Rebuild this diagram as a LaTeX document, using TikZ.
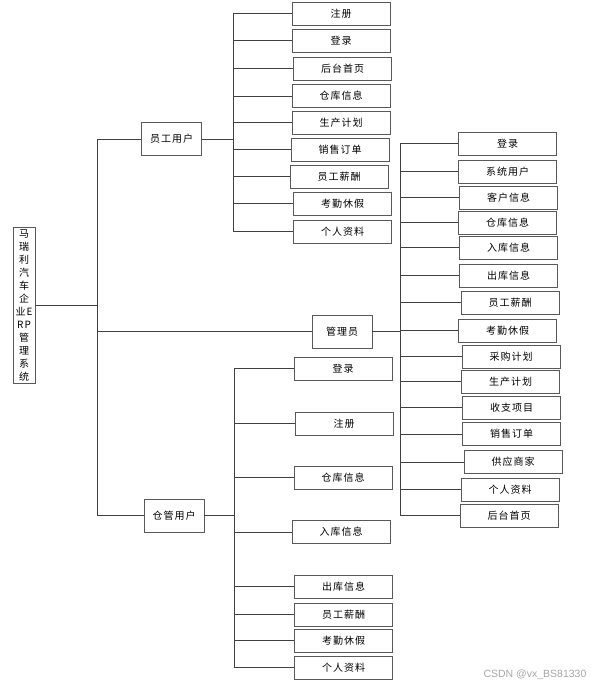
\documentclass[tikz,border=0pt]{standalone}
\usepackage{fontspec}
\usepackage{tikz}
\newfontfamily\cjk[LetterSpace=10]{Noto Sans CJK SC}
\newfontfamily\wmfont{Liberation Sans}

\tikzset{
  leaf/.style={draw=black!65, line width=0.9pt, minimum width=98pt, minimum height=23pt,
    inner sep=0pt, font=\cjk\fontsize{10}{12}\selectfont},
  role/.style={leaf, minimum width=60pt, minimum height=33pt},
  link/.style={draw=black!75, line width=0.8pt},
}

\begin{document}
\begin{tikzpicture}[x=1pt, y=-1pt]

    \useasboundingbox (0,0) rectangle (590,685);

    % ==========================================
    % ROOT AND FIRST LEVEL
    % ==========================================

    % System name, one character per line
    \node[leaf, minimum width=22pt, minimum height=156pt, align=center,
          font=\cjk\fontsize{10}{13}\selectfont] (root) at (24,305)
        {马\\瑞\\利\\汽\\车\\企\\业E\\RP\\管\\理\\系\\统};

    % User roles
    \node[role] (emp) at (171.5,139) {员工用户};
    \node[role] (mgr) at (342,331.5) {管理员};
    \node[role] (wh)  at (174,515.5) {仓管用户};

    % Main trunk
    \coordinate (trunk) at (97,302);
    \draw[link] (root.east) -- (root.east -| trunk);
    \draw[link] (trunk |- emp.west) -- (trunk |- wh.west);
    \draw[link] (trunk |- emp.west) -- (emp.west);
    \draw[link] (trunk |- mgr.west) -- (mgr.west);
    \draw[link] (trunk |- wh.west) -- (wh.west);

    % ==========================================
    % EMPLOYEE USER BRANCH
    % ==========================================

    \node[leaf] (e1) at (341,13.5)   {注册};
    \node[leaf] (e2) at (341,40.5)   {登录};
    \node[leaf] (e3) at (342.5,68.5) {后台首页};
    \node[leaf] (e4) at (341,96)     {仓库信息};
    \node[leaf] (e5) at (341,122.5)  {生产计划};
    \node[leaf] (e6) at (340,149.5)  {销售订单};
    \node[leaf] (e7) at (339,176.5)  {员工薪酬};
    \node[leaf] (e8) at (342.5,203.5) {考勤休假};
    \node[leaf] (e9) at (342.5,231.5) {个人资料};

    % Employee bus line
    \coordinate (ebus) at (233,0);
    \draw[link] (emp.east) -- (emp.east -| ebus);
    \draw[link] (ebus |- e1.west) -- (ebus |- e9.west);
    \draw[link] (ebus |- e1.west) -- (e1.west);
    \draw[link] (ebus |- e2.west) -- (e2.west);
    \draw[link] (ebus |- e3.west) -- (e3.west);
    \draw[link] (ebus |- e4.west) -- (e4.west);
    \draw[link] (ebus |- e5.west) -- (e5.west);
    \draw[link] (ebus |- e6.west) -- (e6.west);
    \draw[link] (ebus |- e7.west) -- (e7.west);
    \draw[link] (ebus |- e8.west) -- (e8.west);
    \draw[link] (ebus |- e9.west) -- (e9.west);

    % ==========================================
    % ADMINISTRATOR BRANCH
    % ==========================================

    \node[leaf] (m1)  at (507.5,143.5) {登录};
    \node[leaf] (m2)  at (507.5,171.5) {系统用户};
    \node[leaf] (m3)  at (508.5,197.5) {客户信息};
    \node[leaf] (m4)  at (507.5,222.5) {仓库信息};
    \node[leaf] (m5)  at (508.5,247.5) {入库信息};
    \node[leaf] (m6)  at (508.5,275.5) {出库信息};
    \node[leaf] (m7)  at (510,302.5)   {员工薪酬};
    \node[leaf] (m8)  at (507.5,330.5) {考勤休假};
    \node[leaf] (m9)  at (511,356.5)   {采购计划};
    \node[leaf] (m10) at (510.5,381.5) {生产计划};
    \node[leaf] (m11) at (511.5,407.5) {收支项目};
    \node[leaf] (m12) at (511.5,434)   {销售订单};
    \node[leaf] (m13) at (513,462)     {供应商家};
    \node[leaf] (m14) at (510,489.5)   {个人资料};
    \node[leaf] (m15) at (509,515.5)   {后台首页};

    % Administrator bus line
    \coordinate (mbus) at (400,0);
    \draw[link] (mgr.east) -- (mgr.east -| mbus);
    \draw[link] (mbus |- m1.west) -- (mbus |- m15.west);
    \draw[link] (mbus |- m1.west) -- (m1.west);
    \draw[link] (mbus |- m2.west) -- (m2.west);
    \draw[link] (mbus |- m3.west) -- (m3.west);
    \draw[link] (mbus |- m4.west) -- (m4.west);
    \draw[link] (mbus |- m5.west) -- (m5.west);
    \draw[link] (mbus |- m6.west) -- (m6.west);
    \draw[link] (mbus |- m7.west) -- (m7.west);
    \draw[link] (mbus |- m8.west) -- (m8.west);
    \draw[link] (mbus |- m9.west) -- (m9.west);
    \draw[link] (mbus |- m10.west) -- (m10.west);
    \draw[link] (mbus |- m11.west) -- (m11.west);
    \draw[link] (mbus |- m12.west) -- (m12.west);
    \draw[link] (mbus |- m13.west) -- (m13.west);
    \draw[link] (mbus |- m14.west) -- (m14.west);
    \draw[link] (mbus |- m15.west) -- (m15.west);

    % ==========================================
    % WAREHOUSE USER BRANCH
    % ==========================================

    \node[leaf] (w1) at (343,368.5)   {登录};
    \node[leaf] (w2) at (344,423.5)   {注册};
    \node[leaf] (w3) at (343,477.5)   {仓库信息};
    \node[leaf] (w4) at (341,532)     {入库信息};
    \node[leaf] (w5) at (343.5,586.5) {出库信息};
    \node[leaf] (w6) at (343.5,614.5) {员工薪酬};
    \node[leaf] (w7) at (343.5,640.5) {考勤休假};
    \node[leaf] (w8) at (343.5,667.5) {个人资料};

    % Warehouse bus line
    \coordinate (wbus) at (234,0);
    \draw[link] (wh.east) -- (wh.east -| wbus);
    \draw[link] (wbus |- w1.west) -- (wbus |- w8.west);
    \draw[link] (wbus |- w1.west) -- (w1.west);
    \draw[link] (wbus |- w2.west) -- (w2.west);
    \draw[link] (wbus |- w3.west) -- (w3.west);
    \draw[link] (wbus |- w4.west) -- (w4.west);
    \draw[link] (wbus |- w5.west) -- (w5.west);
    \draw[link] (wbus |- w6.west) -- (w6.west);
    \draw[link] (wbus |- w7.west) -- (w7.west);
    \draw[link] (wbus |- w8.west) -- (w8.west);

    % Watermark
    \node[text=black!35, font=\wmfont\fontsize{10.5}{12}\selectfont] (mark) at (535,675)
        {CSDN @vx\_BS81330};

\end{tikzpicture}
\end{document}
